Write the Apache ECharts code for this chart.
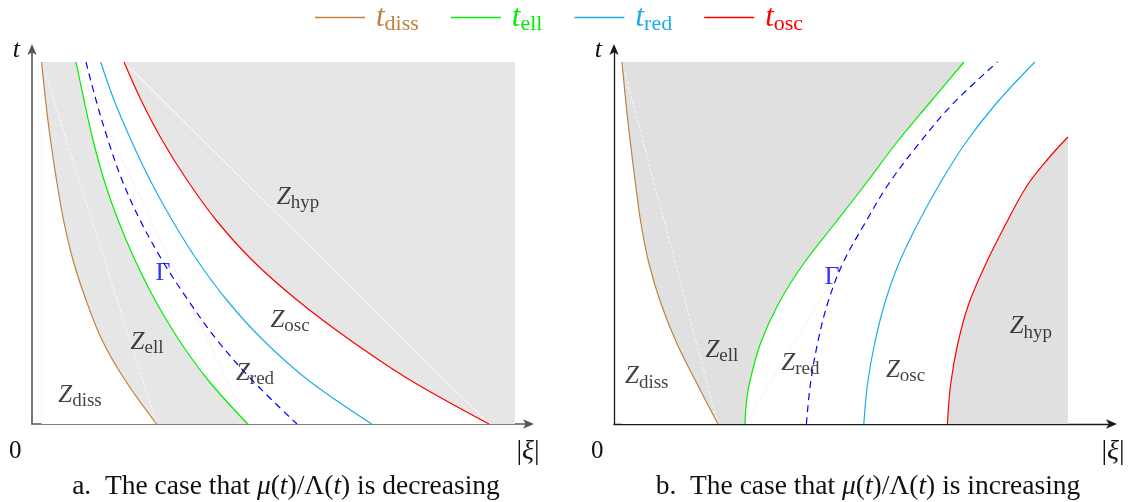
<!DOCTYPE html>
<html>
<head>
<meta charset="utf-8">
<script src="https://cdn.jsdelivr.net/npm/echarts@6.0.0/dist/echarts.min.js"></script>
<style>
html,body{margin:0;padding:0;background:#fff;}
#c{width:1137px;height:502px;}
</style>
</head>
<body>
<div id="c"></div>
<script>
// ---------- data (ξ, t) ----------
const T_TOP = 3.62;          // top of shaded window
const A_RIGHT = 4.83;        // right edge of Z_hyp in panel a
const AXIS_X_MAX = 4.98;
const AXIS_Y_MAX = 3.76;

// Panel a: μ(t)/Λ(t) decreasing
const aDiss  = [[0.097,3.62],[0.135,3.24],[0.185,2.84],[0.245,2.44],[0.315,2.04],[0.41,1.64],[0.54,1.24],[0.70,0.84],[0.93,0.44],[1.245,0]];
const aEll   = [[0.44,3.62],[0.52,3.24],[0.61,2.84],[0.72,2.44],[0.86,2.04],[1.03,1.64],[1.23,1.24],[1.47,0.84],[1.76,0.44],[2.157,0]];
const aGamma = [[0.54,3.62],[0.64,3.24],[0.76,2.84],[0.90,2.44],[1.08,2.04],[1.30,1.64],[1.56,1.24],[1.85,0.84],[2.20,0.44],[2.65,0]];
const aRed   = [[0.687,3.62],[0.82,3.24],[0.99,2.84],[1.18,2.44],[1.40,2.04],[1.65,1.64],[1.947,1.24],[2.31,0.84],[2.76,0.44],[3.397,0]];
const aOsc   = [[0.92,3.62],[1.09,3.24],[1.30,2.84],[1.55,2.44],[1.84,2.04],[2.20,1.64],[2.65,1.24],[3.18,0.84],[3.78,0.44],[4.57,0]];

// Panel b: μ(t)/Λ(t) increasing
const bDiss  = [[0.08,3.62],[0.12,3.20],[0.165,2.80],[0.215,2.40],[0.27,2.00],[0.35,1.60],[0.47,1.20],[0.63,0.80],[0.83,0.40],[1.037,0]];
const bEll   = [[1.307,0],[1.32,0.20],[1.35,0.40],[1.46,0.80],[1.64,1.20],[1.89,1.60],[2.20,2.00],[2.51,2.40],[2.81,2.80],[3.14,3.20],[3.493,3.62]];
const bGamma = [[1.92,0],[1.96,0.40],[2.03,0.80],[2.13,1.20],[2.28,1.60],[2.50,2.00],[2.74,2.40],[3.04,2.80],[3.38,3.20],[3.827,3.62]];
const bRed   = [[2.493,0],[2.53,0.40],[2.60,0.80],[2.70,1.20],[2.84,1.60],[3.03,2.00],[3.25,2.40],[3.50,2.80],[3.81,3.20],[4.20,3.62]];
const bOsc   = [[3.327,0],[3.36,0.40],[3.43,0.80],[3.54,1.20],[3.71,1.60],[3.91,2.00],[4.12,2.38],[4.33,2.65],[4.53,2.87]];

// region labels [ξ, t, key]
const aLabels = [[2.66,2.27,'hyp'],[2.58,1.04,'osc'],[2.23,0.51,'red'],[1.15,0.82,'ell'],[0.48,0.29,'diss']];
const bLabels = [[1.077,0.74,'ell'],[0.327,0.473,'diss'],[1.86,0.61,'red'],[2.91,0.54,'osc'],[4.16,0.973,'hyp']];
const aGammaLabel = [1.31,1.51];
const bGammaLabel = [2.177,1.47];

const legendNames = ['t_diss','t_ell','t_red','t_osc'];

// ---------- styles ----------
const C = {diss:'#c0803f', ell:'#00ee00', red:'#1aaeea', osc:'#ff0000', gamma:'#0000ff'};
const GRAY_A = '#e6e6e6', GRAY_B = '#e0e0e0';
const SERIF = '"Liberation Serif", "DejaVu Serif", serif';
const SM = 0.35;

function first(arr){ return arr[0]; }
function last(arr){ return arr[arr.length-1]; }

function fill(data, color, ax, smooth){
  return {type:'line', data, xAxisIndex:ax, yAxisIndex:ax, smooth: smooth?SM:false,
    symbol:'none', lineStyle:{width:0, opacity:0}, areaStyle:{color, opacity:1}, silent:true, z:1};
}
function stroke(data, color, ax, name, opts){
  opts = opts || {};
  return {type:'line', name: name, data, xAxisIndex:ax, yAxisIndex:ax, smooth: opts.straight?false:SM,
    symbol:'none', silent:true, z: opts.z || 3,
    lineStyle:{color, width: opts.width || 1.2, type: opts.type || 'solid'}, emphasis:{disabled:true}};
}
const zRich = {
  z:{fontFamily:SERIF, fontStyle:'italic', fontSize:25, color:'#111'},
  s:{fontFamily:SERIF, fontSize:19, color:'#111', padding:[13,0,0,0]}
};
function labelSeries(data, ax){
  return {type:'scatter', data, xAxisIndex:ax, yAxisIndex:ax, symbolSize:0, silent:true, z:10,
    label:{show:true, position:'inside', align:'center', verticalAlign:'middle',
      formatter: p => '{z|Z}{s|' + p.value[2] + '}', rich: zRich}};
}
function gammaSeries(pt, ax){
  return {type:'scatter', data:[pt], xAxisIndex:ax, yAxisIndex:ax, symbolSize:0, silent:true, z:10,
    label:{show:true, position:'inside', formatter:'Γ', fontFamily:SERIF, fontSize:26, color:C.gamma}};
}

function axisPair(gi, color, width, gap){
  const line = {show:true, symbol:['none','arrow'], symbolSize:[7,11], symbolOffset:[0,4], lineStyle:{color, width}};
  return {
    x:{type:'value', gridIndex:gi, min:0, max:AXIS_X_MAX, axisLine:line, axisTick:{show:false},
       axisLabel:{show:false}, splitLine:{show:false},
       name:'{r||}{i|ξ}{r||}', nameLocation:'end', nameGap:gap,
       nameTextStyle:{align:'center', verticalAlign:'top', padding:[14,0,0,0],
         rich:{r:{fontFamily:SERIF, fontSize:28, color:'#111'}, i:{fontFamily:SERIF, fontStyle:'italic', fontSize:28, color:'#111'}}}},
    y:{type:'value', gridIndex:gi, min:0, max:AXIS_Y_MAX, axisLine:line, axisTick:{show:false},
       axisLabel:{show:false}, splitLine:{show:false},
       name:'t', nameLocation:'end', nameGap:-2,
       nameTextStyle:{fontFamily:SERIF, fontStyle:'italic', fontSize:26, color:'#111', align:'right', verticalAlign:'middle', padding:[0,12,0,0]}}
  };
}
const axA = axisPair(0, '#555', 1.6, -2);
const axB = axisPair(1, '#1a1a1a', 1.3, 0);

const series = [
  // ---- panel a fills ----
  fill([[first(aOsc)[0], T_TOP],[A_RIGHT, T_TOP]], GRAY_A, 0, false),
  fill(aOsc, '#ffffff', 0, true),
  fill([[first(aDiss)[0], T_TOP],[first(aEll)[0], T_TOP]], GRAY_A, 0, false),
  fill(aEll, GRAY_A, 0, true),
  fill(aDiss, '#ffffff', 0, true),
  // ---- panel a chords ----
  stroke([first(aDiss), last(aDiss)], '#ffffff', 0, null, {straight:true, width:0.8, type:[3,2], z:2}),
  stroke([first(aEll), last(aEll)], '#d8d8d8', 0, null, {straight:true, width:0.6, type:[1,1], z:2}),
  stroke([first(aOsc), last(aOsc)], '#ffffff', 0, null, {straight:true, width:1, z:2}),
  // ---- panel a curves ----
  stroke(aDiss, C.diss, 0, 't_diss'),
  stroke(aEll, C.ell, 0, 't_ell'),
  stroke(aGamma, C.gamma, 0, null, {type:[7,5], width:1.2}),
  stroke(aRed, C.red, 0, 't_red'),
  stroke(aOsc, C.osc, 0, 't_osc'),
  labelSeries(aLabels, 0),
  gammaSeries(aGammaLabel, 0),

  // ---- panel b fills ----
  fill([[first(bDiss)[0], T_TOP],[last(bEll)[0], T_TOP]], GRAY_B, 1, false),
  fill(bDiss, '#ffffff', 1, true),
  fill(bEll, '#ffffff', 1, true),
  fill(bOsc, GRAY_B, 1, true),
  // ---- panel b chords ----
  stroke([first(bDiss), last(bDiss)], '#ffffff', 1, null, {straight:true, width:0.8, type:[3,2], z:2}),
  stroke([first(bEll), last(bEll)], '#d8d8d8', 1, null, {straight:true, width:0.6, type:[1,1], z:2}),
  // ---- panel b curves ----
  stroke(bDiss, C.diss, 1, 't_diss'),
  stroke(bEll, C.ell, 1, 't_ell'),
  stroke(bGamma, C.gamma, 1, null, {type:[7,5], width:1.2}),
  stroke(bRed, C.red, 1, 't_red'),
  stroke(bOsc, C.osc, 1, 't_osc'),
  labelSeries(bLabels, 1),
  gammaSeries(bGammaLabel, 1)
];

const legendColors = {t_diss:C.diss, t_ell:C.ell, t_red:C.red, t_osc:C.osc};
const capRich = {
  r:{fontFamily:SERIF, fontSize:27.5, fontWeight:'normal', color:'#111'},
  i:{fontFamily:SERIF, fontStyle:'italic', fontSize:27.5, fontWeight:'normal', color:'#111'}
};

const chart = echarts.init(document.getElementById('c'), null, {renderer:'canvas'});
chart.setOption({
  animation:false,
  backgroundColor:'#fff',
  grid:[
    {left:32, top:48, width:498, height:376, containLabel:false},
    {left:614, top:48, width:499, height:376, containLabel:false}
  ],
  xAxis:[axA.x, axB.x],
  yAxis:[axA.y, axB.y],
  legend:{
    left:310, top:-3, itemWidth:50, itemHeight:1.5, icon:'rect', itemGap:32, selectedMode:false,
    data: legendNames.map(n => ({name:n, itemStyle:{color:legendColors[n]}, textStyle:{color:legendColors[n]}})),
    formatter: n => '{i|t}{s|' + n.split('_')[1] + '}',
    textStyle:{padding:[0,0,0,6], rich:{
      i:{fontFamily:SERIF, fontStyle:'italic', fontSize:31},
      s:{fontFamily:SERIF, fontSize:22, padding:[14,0,0,0]}
    }}
  },
  title:[
    {text:'0', left:4, top:434, textStyle:{fontFamily:SERIF, fontSize:25, fontWeight:'normal', color:'#111'}},
    {text:'0', left:586, top:434, textStyle:{fontFamily:SERIF, fontSize:25, fontWeight:'normal', color:'#111'}},
    {text:'{r|a.  The case that }{i|μ}{r|(}{i|t}{r|)/Λ(}{i|t}{r|) is decreasing}', left:281, top:468, textAlign:'center',
     textStyle:{fontWeight:'normal', rich:capRich}},
    {text:'{r|b.  The case that }{i|μ}{r|(}{i|t}{r|)/Λ(}{i|t}{r|) is increasing}', left:863, top:468, textAlign:'center',
     textStyle:{fontWeight:'normal', rich:capRich}}
  ],
  series
});
</script>
</body>
</html>
